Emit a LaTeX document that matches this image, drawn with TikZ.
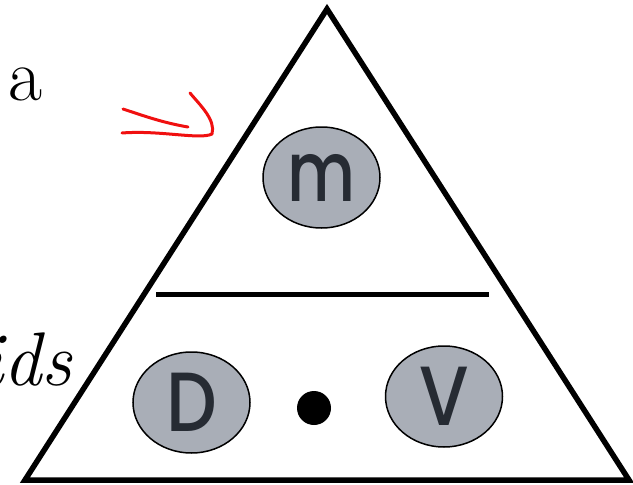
\documentclass[tikz,border=0pt]{standalone}
\usepackage{fontspec}
\usepackage{xcolor}
\usetikzlibrary{shapes.geometric, positioning}
\newfontfamily\handfont{Poppins Medium}
\definecolor{ballgray}{HTML}{A9AEB7}
\definecolor{inkdark}{HTML}{262B33}
\definecolor{penred}{HTML}{F01010}

\begin{document}
\begin{tikzpicture}[
      x=1pt, y=-1pt,
      ball/.style={ellipse, draw, line width=1.5pt, fill=ballgray,
                   minimum width=117pt, minimum height=101pt, inner sep=0pt,
                   text=inkdark, font=\handfont\fontsize{84}{90}\selectfont},
      edge/.style={line width=5.5pt, line join=miter},
      scrib/.style={penred, line width=3pt, line cap=round, line join=round}
    ]
    \useasboundingbox (0,0) rectangle (633,485);
    \coordinate (top) at (327,9);
    \coordinate (bl) at (25,480);
    \coordinate (br) at (629,480);
    \draw[edge] (top) -- (bl) -- (br) -- cycle;
    \coordinate (barl) at (156,294.5);
    \coordinate (barr) at (489,294.5);
    \draw[line width=5pt] (barl) -- (barr);
    \node[ball] (m) at (321.5,177.5) {\raisebox{-2pt}{\scalebox{0.78}[1]{m}}};
    \node[ball] (d) at (191.5,402.5) {\scalebox{0.85}[1]{D}};
    \node[ball] (v) at (444,396.5) {\scalebox{0.85}[1]{V}};
    \node[circle, fill=black, minimum size=34pt, inner sep=0pt] (dot) at (314,408) {};
    % cut-off words on the left
    \node[anchor=base west, inner sep=0pt, font=\fontsize{74}{80}\selectfont] (wa) at (8,100) {a};
    \node[anchor=base east, inner sep=0pt, font=\itshape\fontsize{76}{80}\selectfont] (wids) at (72,385) {ids};
    % red scribble
    \draw[scrib] (123,109) .. controls (150,118) and (165,123) .. (188,127);
    \draw[scrib] (122,133) .. controls (160,130) and (200,140) .. (212,134)
      .. controls (216,120) and (200,105) .. (190,93);
  \end{tikzpicture}
\end{document}
